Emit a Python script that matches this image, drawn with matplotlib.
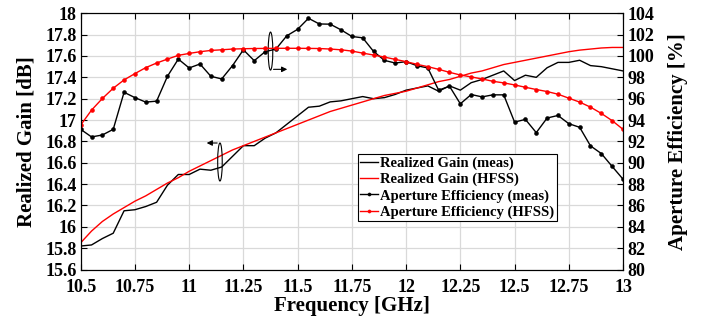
import matplotlib.pyplot as plt
import numpy as np
from matplotlib.patches import Ellipse

plt.rcParams['font.family'] = ['Liberation Serif', 'DejaVu Serif']
plt.rcParams['font.weight'] = 'bold'

# frequency grid, 0.05 GHz steps
freq = np.round(np.arange(10.5, 13.0001, 0.05), 2)

gain_meas = [15.82, 15.83, 15.89, 15.94, 16.15, 16.16, 16.19, 16.23, 16.39, 16.49,
             16.49, 16.54, 16.53, 16.56, 16.66, 16.76, 16.76, 16.83, 16.88, 16.96,
             17.04, 17.12, 17.13, 17.17, 17.18, 17.20, 17.22, 17.20, 17.21, 17.24,
             17.28, 17.30, 17.32, 17.27, 17.32, 17.28, 17.35, 17.38, 17.42, 17.46,
             17.37, 17.42, 17.40, 17.49, 17.54, 17.54, 17.56, 17.51, 17.50, 17.48,
             17.46]
gain_hfss = [15.85, 15.96, 16.05, 16.12, 16.18, 16.24, 16.29, 16.35, 16.41, 16.46,
             16.52, 16.57, 16.62, 16.67, 16.72, 16.76, 16.80, 16.84, 16.88, 16.92,
             16.96, 17.00, 17.04, 17.08, 17.11, 17.14, 17.17, 17.20, 17.23, 17.25,
             17.27, 17.30, 17.33, 17.36, 17.38, 17.41, 17.44, 17.46, 17.49, 17.52,
             17.54, 17.56, 17.58, 17.60, 17.62, 17.64, 17.655, 17.665, 17.675, 17.68,
             17.68]
eff_meas = [93.13, 92.42, 92.60, 93.13, 96.60, 96.10, 95.68, 95.77, 98.10, 99.71,
            98.88, 99.25, 98.10, 97.85, 99.10, 100.58, 99.56, 100.40, 100.65, 101.89,
            102.50, 103.53, 103.00, 102.98, 102.45, 101.83, 101.70, 100.43, 99.59, 99.34,
            99.47, 99.09, 98.88, 96.80, 97.17, 95.52, 96.39, 96.17, 96.36, 96.36,
            93.81, 94.06, 92.82, 94.19, 94.43, 93.66, 93.32, 91.58, 90.86, 89.65,
            88.46]
eff_hfss = [93.53, 94.93, 96.02, 96.98, 97.76, 98.35, 98.91, 99.34, 99.71, 100.06,
            100.24, 100.40, 100.52, 100.58, 100.65, 100.68, 100.70, 100.71, 100.72, 100.72,
            100.72, 100.71, 100.70, 100.65, 100.58, 100.46, 100.27, 100.09, 99.90, 99.68,
            99.47, 99.22, 99.00, 98.75, 98.47, 98.22, 98.04, 97.85, 97.63, 97.48,
            97.29, 97.07, 96.86, 96.67, 96.42, 96.05, 95.68, 95.21, 94.62, 93.94,
            93.13]

xticks = [10.5, 10.75, 11, 11.25, 11.5, 11.75, 12, 12.25, 12.5, 12.75, 13]
xticklabels = ['10.5', '10.75', '11', '11.25', '11.5', '11.75', '12', '12.25', '12.5', '12.75', '13']
gticks = [15.6, 15.8, 16, 16.2, 16.4, 16.6, 16.8, 17, 17.2, 17.4, 17.6, 17.8, 18]
gticklabels = ['15.6', '15.8', '16', '16.2', '16.4', '16.6', '16.8', '17', '17.2', '17.4', '17.6', '17.8', '18']
eticks = [80, 82, 84, 86, 88, 90, 92, 94, 96, 98, 100, 102, 104]

fig = plt.figure(figsize=(7.04, 3.21), dpi=100)
ax1 = fig.add_axes([0.1146, 0.1604, 0.7704, 0.7982])
ax2 = ax1.twinx()

l1, = ax1.plot(freq, gain_meas, color='k', lw=1.0, label='Realized Gain (meas)')
l2, = ax1.plot(freq, gain_hfss, color='red', lw=1.0, label='Realized Gain (HFSS)')
l3, = ax2.plot(freq, eff_meas, color='k', lw=1.0, marker='o', ms=2.8, mew=0.4,
               label='Aperture Efficiency (meas)')
l4, = ax2.plot(freq, eff_hfss, color='red', lw=1.0, marker='o', ms=2.8, mew=0.4,
               label='Aperture Efficiency (HFSS)')

ax1.set_xlim(10.5, 13)
ax1.set_ylim(15.6, 18)
ax2.set_ylim(80, 104)
ax1.set_xticks(xticks)
ax1.set_xticklabels(xticklabels)
ax1.set_yticks(gticks)
ax1.set_yticklabels(gticklabels)
ax2.set_yticks(eticks)

ax1.grid(True, color='#d9d9d9', lw=0.9)
ax1.set_axisbelow(True)
ax1.tick_params(direction='in', length=4, top=True, labelsize=13, pad=3)
ax1.tick_params(axis='x', pad=7)
ax2.tick_params(direction='in', length=4, labelsize=13, pad=3)
for ax in (ax1, ax2):
    for lab in ax.get_xticklabels() + ax.get_yticklabels():
        lab.set_fontweight('bold')

ax1.set_xlabel('Frequency [GHz]', fontsize=15, fontweight='bold', labelpad=0)
ax1.set_ylabel('Realized Gain [dB]', fontsize=15, fontweight='bold', labelpad=6)
ax2.set_ylabel('Aperture Efficiency [%]', fontsize=15, fontweight='bold', labelpad=10)

# annotation ellipses with arrows
ax1.add_patch(Ellipse((11.375, 17.646), 0.021, 0.356, fill=False, ec='k', lw=0.8, zorder=5))
ax1.annotate('', xy=(11.465, 17.475), xytext=(11.376, 17.475),
             arrowprops=dict(arrowstyle='-|>', color='k', lw=0.8, mutation_scale=8))
ax1.add_patch(Ellipse((11.142, 16.607), 0.021, 0.356, fill=False, ec='k', lw=0.8, zorder=5))
ax1.annotate('', xy=(11.068, 16.785), xytext=(11.142, 16.785),
             arrowprops=dict(arrowstyle='-|>', color='k', lw=0.8, mutation_scale=8))

leg = ax2.legend(handles=[l1, l2, l3, l4], loc='upper left', bbox_to_anchor=(0.511, 0.45),
                 prop={'weight': 'bold', 'size': 10.5}, fancybox=False,
                 edgecolor='k', framealpha=1, borderpad=0.15, handlelength=1.2,
                 handletextpad=0.2, labelspacing=0.2, borderaxespad=0.0, markerscale=0.8)
leg.get_frame().set_linewidth(0.8)

fig.savefig('out.png', dpi=100)
